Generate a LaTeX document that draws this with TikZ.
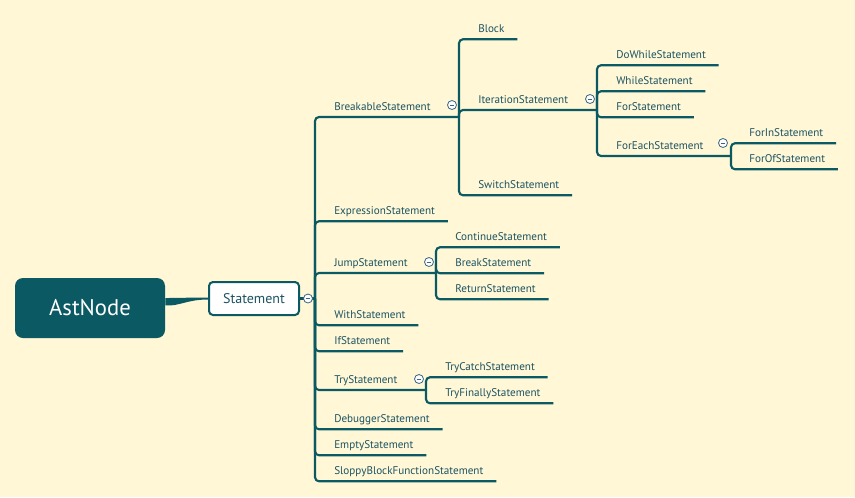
\documentclass[tikz,border=0pt]{standalone}
\usepackage{fontspec}
\setmainfont{PT Sans}
\usepackage{xcolor}
\definecolor{bgpaper}{HTML}{FFF7D6}
\definecolor{mapteal}{HTML}{0B5963}
\definecolor{maptext}{HTML}{1B5363}
\definecolor{togglec}{HTML}{3A6585}

\begin{document}
\begin{tikzpicture}[x=0.75pt,y=-0.75pt,
  branch/.style={draw=mapteal,line width=1.6pt,rounded corners=3pt},
  lbl/.style={anchor=base west,text depth=5.25pt,text=maptext,font=\fontsize{8.35}{10}\selectfont},
  toggle/.style={circle,draw=togglec,fill=white,line width=0.6pt,minimum size=6.75pt,
    path picture={\draw[togglec,line width=0.7pt] ([xshift=-1.8pt]path picture bounding box.center) -- ([xshift=1.8pt]path picture bounding box.center);}}]
\tikzstyle{every node}+=[inner sep=0pt]
\fill [bgpaper] (0,0) rectangle (855,497);
\useasboundingbox (0,0) rectangle (855,497);
\node [fill=mapteal,rounded corners=6pt,minimum width=112.5pt,minimum height=45pt,text=white,font=\fontsize{17}{19}\selectfont] (ast) at (90,308) {AstNode};
\node [draw=mapteal,fill=white,line width=1.5pt,rounded corners=3pt,minimum width=67.5pt,minimum height=24.75pt,text=maptext,font=\fontsize{10.5}{12}\selectfont] (stmt) at (254,298.5) {Statement};
\fill [mapteal] ([yshift=7.5pt]ast.east) .. controls +(14pt,0) and +(-16pt,0) .. ([yshift=0.75pt]stmt.west) -- ([yshift=-0.75pt]stmt.west) .. controls +(-16pt,0) and +(10pt,-1pt) .. ([yshift=2pt]ast.east) -- cycle;
\coordinate (stmt-j) at (315,298.5);
\coordinate (brk-j) at (459,117);
\coordinate (iter-j) at (597,110);
\coordinate (foreach-j) at (731,156);
\coordinate (jump-j) at (436,273);
\coordinate (try-j) at (426,390);
\node [lbl] (brk) at (334,110) {BreakableStatement};
\node [lbl] (block) at (478,32) {Block};
\node [lbl] (iter) at (478,103) {IterationStatement};
\node [lbl] (switch) at (478,188) {SwitchStatement};
\node [lbl] (dowhile) at (616,58) {DoWhileStatement};
\node [lbl] (while) at (616,84) {WhileStatement};
\node [lbl] (for) at (616,110) {ForStatement};
\node [lbl] (foreach) at (616,149) {ForEachStatement};
\node [lbl] (forin) at (749,136) {ForInStatement};
\node [lbl] (forof) at (749,162) {ForOfStatement};
\node [lbl] (expr) at (334,214) {ExpressionStatement};
\node [lbl] (jump) at (334,266) {JumpStatement};
\node [lbl] (cont) at (455,240) {ContinueStatement};
\node [lbl] (brkst) at (455,266) {BreakStatement};
\node [lbl] (ret) at (455,292) {ReturnStatement};
\node [lbl] (with) at (334,318) {WithStatement};
\node [lbl] (if) at (334,344) {IfStatement};
\node [lbl] (try) at (334,383) {TryStatement};
\node [lbl] (trycatch) at (445,370) {TryCatchStatement};
\node [lbl] (tryfin) at (445,396) {TryFinallyStatement};
\node [lbl] (dbg) at (334,422) {DebuggerStatement};
\node [lbl] (empty) at (334,448) {EmptyStatement};
\node [lbl] (sloppy) at (334,474) {SloppyBlockFunctionStatement};
\draw [branch] (stmt.east) -- (stmt-j);
\draw [branch] (stmt-j) |- (brk-j);
\draw [branch] (stmt-j) |- ([xshift=9.5pt]expr.south east);
\draw [branch] (stmt-j) |- (jump-j);
\draw [branch] (stmt-j) |- ([xshift=9.5pt]with.south east);
\draw [branch] (stmt-j) |- ([xshift=9.5pt]if.south east);
\draw [branch] (stmt-j) |- (try-j);
\draw [branch] (stmt-j) |- ([xshift=9.5pt]dbg.south east);
\draw [branch] (stmt-j) |- ([xshift=9.5pt]empty.south east);
\draw [branch] (stmt-j) |- ([xshift=9.5pt]sloppy.south east);
\draw [branch] (brk-j) |- ([xshift=9.5pt]block.south east);
\draw [branch] (brk-j) |- (iter-j);
\draw [branch] (brk-j) |- ([xshift=9.5pt]switch.south east);
\draw [branch] (iter-j) |- ([xshift=9.5pt]dowhile.south east);
\draw [branch] (iter-j) |- ([xshift=9.5pt]while.south east);
\draw [branch] (iter-j) |- ([xshift=9.5pt]for.south east);
\draw [branch] (iter-j) |- (foreach-j);
\draw [branch] (foreach-j) |- ([xshift=9.5pt]forin.south east);
\draw [branch] (foreach-j) |- ([xshift=9.5pt]forof.south east);
\draw [branch] (jump-j) |- ([xshift=9.5pt]cont.south east);
\draw [branch] (jump-j) |- ([xshift=9.5pt]brkst.south east);
\draw [branch] (jump-j) |- ([xshift=9.5pt]ret.south east);
\draw [branch] (try-j) |- ([xshift=9.5pt]trycatch.south east);
\draw [branch] (try-j) |- ([xshift=9.5pt]tryfin.south east);
\node [toggle] (stmt-t) at (308,298.5) {};
\node [toggle] (brk-t) at (452,105) {};
\node [toggle] (iter-t) at (590,99) {};
\node [toggle] (foreach-t) at (723,143) {};
\node [toggle] (jump-t) at (429,262) {};
\node [toggle] (try-t) at (419,379) {};
\end{tikzpicture}
\end{document}
